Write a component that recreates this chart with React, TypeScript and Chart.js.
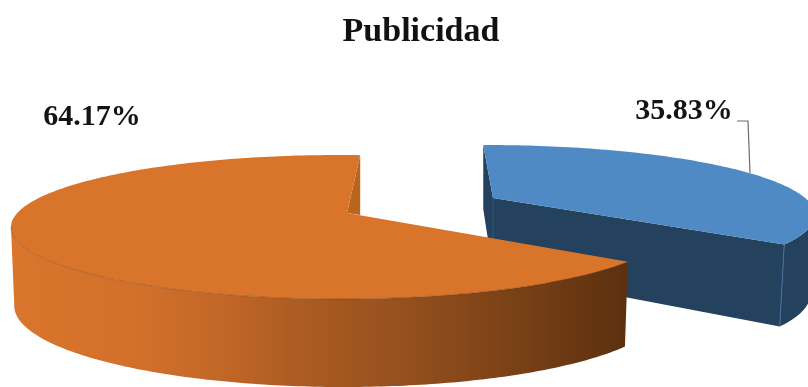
import React, { useEffect, useRef } from "react";
import { Chart, registerables } from "chart.js";

Chart.register(...registerables);

const chartTitle = "Publicidad";
const categories = ["1", "2"];
const shares = [35.83, 64.17];
const topColors = ["#4F8AC5", "#D9742B"];
const wallColors = ["#24415D", "#B9651F"];

const SERIF = '"Liberation Serif", serif';
const deg = Math.PI / 180;

// Tilted-disc geometry of each exploded slice: top ellipse, apex, wall depth around the rim.
const discs = [
  { cx: 486, cy: 215, rx: 329, ry: 70, phase: -4, apex: [493, 198], apexDepth: 74, depth: [72.2, 8.2, 7], xs: 0.995, xOff: -3 },
  { cx: 340, cy: 227, rx: 329, ry: 72, phase: 0, apex: [347, 213], apexDepth: 0, depth: [80, 8, 1], xs: 0.99, xOff: 0 },
];
const labelAnchors = [
  [684, 111],
  [92, 117],
];
const leader = [
  [737, 121],
  [748, 121],
  [750, 173],
];

// Foreshortening of the angles on the rim: the near-right side is compressed.
const rimAngle = (theta: number, disc: any) =>
  theta - 7.5 * deg * Math.sin(theta + 28.75 * deg) + disc.phase * deg;

const topPoint = (disc: any, phi: number) => [
  disc.cx + disc.rx * Math.cos(phi),
  disc.cy + disc.ry * Math.sin(phi),
];

const bottomPoint = (disc: any, phi: number) => {
  const [x, y] = topPoint(disc, phi);
  const [d0, d1, d2] = disc.depth;
  return [
    disc.cx + (x - disc.cx) * disc.xs + disc.xOff,
    y + d0 + d1 * Math.sin(phi) + d2 * Math.cos(phi),
  ];
};

const sweep = (from: number, to: number, fn: (phi: number) => number[]) => {
  const n = Math.max(2, Math.ceil(Math.abs(to - from) / (1 * deg)));
  const pts: number[][] = [];
  for (let i = 0; i <= n; i++) pts.push(fn(from + ((to - from) * i) / n));
  return pts;
};

const fillPath = (ctx: CanvasRenderingContext2D, pts: number[][], fill: any) => {
  ctx.beginPath();
  pts.forEach(([x, y], i) => (i ? ctx.lineTo(x, y) : ctx.moveTo(x, y)));
  ctx.closePath();
  ctx.fillStyle = fill;
  ctx.fill();
};

const strokePath = (ctx: CanvasRenderingContext2D, pts: number[][], color: string, width = 1) => {
  ctx.beginPath();
  pts.forEach(([x, y], i) => (i ? ctx.lineTo(x, y) : ctx.moveTo(x, y)));
  ctx.strokeStyle = color;
  ctx.lineWidth = width;
  ctx.stroke();
};

// Replaces the flat arcs with extruded slices, using the angles the pie controller computed.
const extrudedPie = {
  id: "extrudedPie",
  beforeDatasetDraw(chart: any) {
    const ctx: CanvasRenderingContext2D = chart.ctx;
    const arcs = chart.getDatasetMeta(0).data;
    ctx.save();

    // Blue slice, behind the orange one.
    {
      const disc = discs[0];
      const a = rimAngle(arcs[0].startAngle, disc);
      const b = rimAngle(arcs[0].endAngle, disc);
      const apexBottom = [disc.apex[0], disc.apex[1] + disc.apexDepth];
      const wall = wallColors[0];
      const backTop = topPoint(disc, a);
      const backBottom = [backTop[0], bottomPoint(disc, a)[1]];
      fillPath(ctx, [backTop, disc.apex, apexBottom, backBottom], wall);
      fillPath(ctx, [disc.apex, topPoint(disc, b), bottomPoint(disc, b), apexBottom], wall);
      fillPath(
        ctx,
        [...sweep(b, 0, (p) => topPoint(disc, p)), ...sweep(0, b, (p) => bottomPoint(disc, p))],
        wall
      );
      strokePath(ctx, [topPoint(disc, b), bottomPoint(disc, b)], "#47709A");
      strokePath(ctx, [disc.apex, apexBottom], "#35587C");
      fillPath(ctx, [disc.apex, ...sweep(a, b, (p) => topPoint(disc, p))], topColors[0]);
    }

    // Orange slice: inner cut, shaded outer wall, then the top face.
    {
      const disc = discs[1];
      const a = rimAngle(arcs[1].startAngle, disc);
      const b = rimAngle(arcs[1].endAngle, disc);
      const rimEnd = topPoint(disc, b);
      fillPath(ctx, [rimEnd, [rimEnd[0], disc.apex[1] + 2], disc.apex], wallColors[1]);

      const shade = ctx.createLinearGradient(15, 0, 627, 0);
      shade.addColorStop(0, "#D9752C");
      shade.addColorStop(0.2, "#D2702A");
      shade.addColorStop(0.32, "#C46828");
      shade.addColorStop(0.47, "#AB5C22");
      shade.addColorStop(0.63, "#96501E");
      shade.addColorStop(0.8, "#7C4217");
      shade.addColorStop(1, "#5C300F");
      const leftEdge = 180 * deg;
      fillPath(
        ctx,
        [...sweep(a, leftEdge, (p) => topPoint(disc, p)), ...sweep(leftEdge, a, (p) => bottomPoint(disc, p))],
        shade
      );
      fillPath(ctx, [disc.apex, ...sweep(a, b, (p) => topPoint(disc, p))], topColors[1]);
      strokePath(ctx, sweep(a, leftEdge, (p) => topPoint(disc, p)), "rgba(110,55,15,0.4)");
    }

    ctx.restore();
    return false;
  },
  afterDatasetsDraw(chart: any) {
    const ctx: CanvasRenderingContext2D = chart.ctx;
    ctx.save();
    strokePath(ctx, leader, "#6B6B6B", 1.2);
    ctx.font = `bold 30px ${SERIF}`;
    ctx.fillStyle = "#141414";
    ctx.textAlign = "center";
    ctx.textBaseline = "middle";
    shares.forEach((v, i) => {
      ctx.fillText(`${v.toFixed(2)}%`, labelAnchors[i][0], labelAnchors[i][1]);
    });
    ctx.restore();
  },
};

export default function App() {
  const ref = useRef<HTMLCanvasElement>(null);
  useEffect(() => {
    const chart = new Chart(ref.current!, {
      type: "pie",
      data: {
        labels: categories,
        datasets: [{ data: shares, backgroundColor: topColors, borderWidth: 0 }],
      },
      options: {
        animation: false,
        responsive: false,
        rotation: -3.25,
        layout: { padding: { left: 34 } },
        plugins: {
          legend: { display: false },
          tooltip: { enabled: false },
          title: {
            display: true,
            text: chartTitle,
            fullSize: false,
            color: "#111111",
            font: { family: SERIF, size: 34, weight: "bold" },
            padding: { top: 12, bottom: 10 },
          },
        },
      },
      plugins: [extrudedPie],
    } as any);
    return () => chart.destroy();
  }, []);
  return (
    <div style={{ position: "fixed", left: 0, top: 0, width: 808, height: 387, background: "#fff" }}>
      <canvas ref={ref} width={808} height={387} style={{ display: "block" }} />
    </div>
  );
}
